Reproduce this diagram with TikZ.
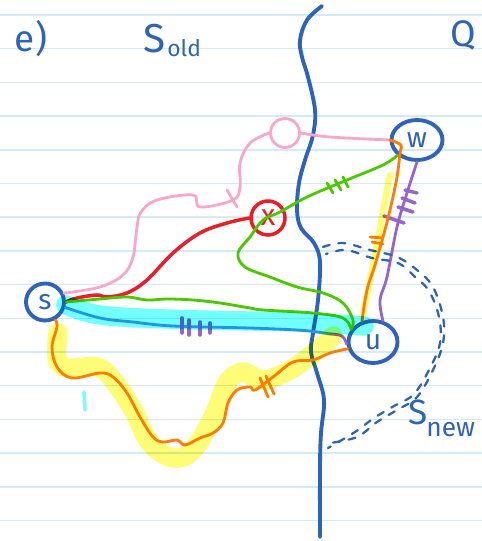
\documentclass[tikz,border=0pt]{standalone}
\usepackage{fontspec}
\setmainfont{Fira Sans}
\usetikzlibrary{shapes.geometric}
\definecolor{ink}{RGB}{45,99,184}
\definecolor{rulecol}{RGB}{212,234,248}
\definecolor{penred}{RGB}{232,30,40}
\definecolor{penpink}{RGB}{247,168,200}
\definecolor{pengreen}{RGB}{76,200,0}
\definecolor{penorange}{RGB}{255,125,0}
\definecolor{penpurple}{RGB}{150,100,204}
\definecolor{penblue}{RGB}{70,150,225}
\definecolor{hlcyan}{RGB}{115,255,255}
\definecolor{hlyellow}{RGB}{255,252,120}
\tikzset{
  vtx/.style={draw=ink,ellipse,line width=2.2pt,inner sep=0pt,text=ink,font=\fontsize{16}{16}\selectfont},
  pen/.style={line width=1.6pt,line cap=round,line join=round},
  hand/.style={text=ink,inner sep=0pt},
  rulebar/.style={draw=rulecol,line width=0.8pt},
  sketchdash/.style={draw=ink,line width=1.3pt,line cap=round,dash pattern=on 4pt off 5pt},
}
\begin{document}
\begin{tikzpicture}[x=0.02cm,y=-0.02cm]
\useasboundingbox[fill=white] (0,0) rectangle (482,541);
\foreach \i in {0,...,15}
  \draw[rulebar] (0,{15+33.7*\i}) -- (482,{15+33.7*\i});

\node[hand,font=\fontsize{21}{21}\selectfont] (part) at (31,39) {e)};
\node[hand,font=\fontsize{23}{23}\selectfont] (Sold) at (155,39) {S};
\node[hand,font=\fontsize{13}{13}\selectfont,anchor=west] (oldtxt) at (167,48) {old};
\node[hand,font=\fontsize{21}{21}\selectfont] (Q) at (463,35) {Q};
\node[hand,font=\fontsize{20}{20}\selectfont] (Snew) at (418,412) {S};
\node[hand,font=\fontsize{15}{15}\selectfont,anchor=west] (newtxt) at (426,430) {new};

\draw[ink,line width=2.2pt,line cap=round] plot[smooth,tension=0.6] coordinates {(322,6) (307,20) (300,40) (302,57) (308,77) (315,110) (313,135) (305,160) (299,183) (297,210) (301,228) (314,243) (320,262) (318,300) (313,333) (311,352) (317,373) (324,400) (321,433) (320,467) (320,537)};

\node[vtx,minimum width=0.76cm,minimum height=0.74cm] (s) at (45,302) {s};
\node[vtx,minimum width=1.02cm,minimum height=0.8cm] (w) at (417,140) {w};
\node[vtx,minimum width=0.98cm,minimum height=0.84cm] (u) at (373,342) {u};
\node[draw=penred,circle,line width=2pt,minimum size=0.68cm,inner sep=0pt,text=penred,font=\fontsize{17}{17}\selectfont] (cx) at (268,218) {x};
\node[draw=penpink,circle,line width=1.6pt,minimum size=0.58cm,inner sep=0pt] (pk) at (285,133) {};
\coordinate (cyanend) at (330,334);

\draw[pen,penpink] plot[smooth,tension=0.6] coordinates {(s.25) (100,287) (123,275) (133,257) (137,227) (141,212) (157,200) (193,195) (200,207) (233,200) (240,187) (240,163) (250,143) (pk.west)};
\draw[pen,penpink] plot[smooth,tension=0.6] coordinates {(pk.east) (330,137) (w.west)};
\draw[pen,penpink] (227,190) -- (237,207);

\draw[pen,penred,line width=2pt] plot[smooth,tension=0.6] coordinates {(s.east) (77,298) (97,295) (107,297) (127,293) (147,280) (173,253) (200,233) (227,223) (cx.west)};

\draw[pen,pengreen] plot[smooth,tension=0.6] coordinates {(w.218) (383,165) (347,180) (307,197) (280,212) (263,220) (250,237) (238,253) (245,267) (270,277) (297,287) (323,293) (343,303) (353,320) (u.150)};
\draw[pen,pengreen] (327,183) -- (333,193) (335,180) -- (341,190) (343,177) -- (348,187);
\draw[pen,pengreen] plot[smooth,tension=0.6] coordinates {(s.east) (100,299) (127,297) (147,300) (167,299) (193,300) (220,303) (250,308) (263,310) (313,313) (343,318) (u.150)};

\draw[pen,penblue] plot[smooth,tension=0.6] coordinates {(s.-15) (100,318) (133,322) (173,326) (250,328) (297,330) (317,332) (cyanend)};
\draw[pen,penpurple] plot[smooth,tension=0.6] coordinates {(cyanend) (342,336) (u.185)};
\draw[pen,penpurple] plot[smooth,tension=0.6] coordinates {(u.65) (380,300) (387,277) (397,227) (407,193) (w.south)};
\draw[pen,penpurple,line width=2pt] (182,318) -- (182,333) (189,320) -- (189,335) (200,322) -- (200,335) (210,323) -- (210,333);
\draw[pen,penpurple,line width=2pt] (405,190) -- (417,193) (402,198) -- (415,203) (398,207) -- (413,212) (384,216) -- (404,223);

\draw[pen,penorange] plot[smooth,tension=0.6] coordinates {(w.west) (401,145) (400,153) (397,177) (390,210) (383,237) (375,265) (367,290) (u.118)};
\draw[pen,penorange] (370,237) -- (383,238) (372,242) -- (383,244);
\draw[pen,penorange] plot[smooth,tension=0.6] coordinates {(s.-60) (57,327) (52,347) (57,367) (72,378) (100,373) (113,377) (127,393) (140,417) (153,437) (163,442) (177,440) (185,445) (200,438) (213,433) (223,423) (228,403) (237,390) (250,387) (255,390) (273,377) (293,362) (313,360) (330,353) (u.195)};
\draw[pen,penorange] (260,378) -- (268,397) (266,376) -- (274,394);

\draw[sketchdash] plot[smooth,tension=0.6] coordinates {(323,247) (343,243) (370,250) (397,257) (417,270) (433,287) (443,317) (443,343) (433,370) (417,397) (397,410) (377,422) (357,437) (330,443)};
\draw[sketchdash,dash phase=3pt] plot[smooth,tension=0.6] coordinates {(326,254) (346,250) (372,258) (398,263) (414,276) (429,291) (439,317) (440,343) (430,368) (414,394) (394,406) (374,418) (355,432) (328,448)};

\begin{scope}[blend mode=multiply]
\draw[hlcyan,line width=11pt,line cap=round] plot[smooth,tension=0.6] coordinates {(s.-8) (100,315) (167,319) (250,321) (297,322) (350,325) (364,326)};
\draw[hlyellow,line width=3.5pt,line cap=round] plot[smooth,tension=0.6] coordinates {(390,175) (383,210) (377,245) (370,280) (363,315)};
\draw[hlyellow,line width=11pt,line cap=round,line join=round] plot[smooth,tension=0.6] coordinates {(58,333) (57,358) (67,368) (97,367) (113,380) (133,410) (150,443) (173,458) (193,450) (213,417) (227,383) (243,372) (263,380) (290,370) (315,352) (333,336)};
\draw[hlcyan,line width=2pt,line cap=round] (84,392) -- (85,410);
\end{scope}
\end{tikzpicture}
\end{document}
